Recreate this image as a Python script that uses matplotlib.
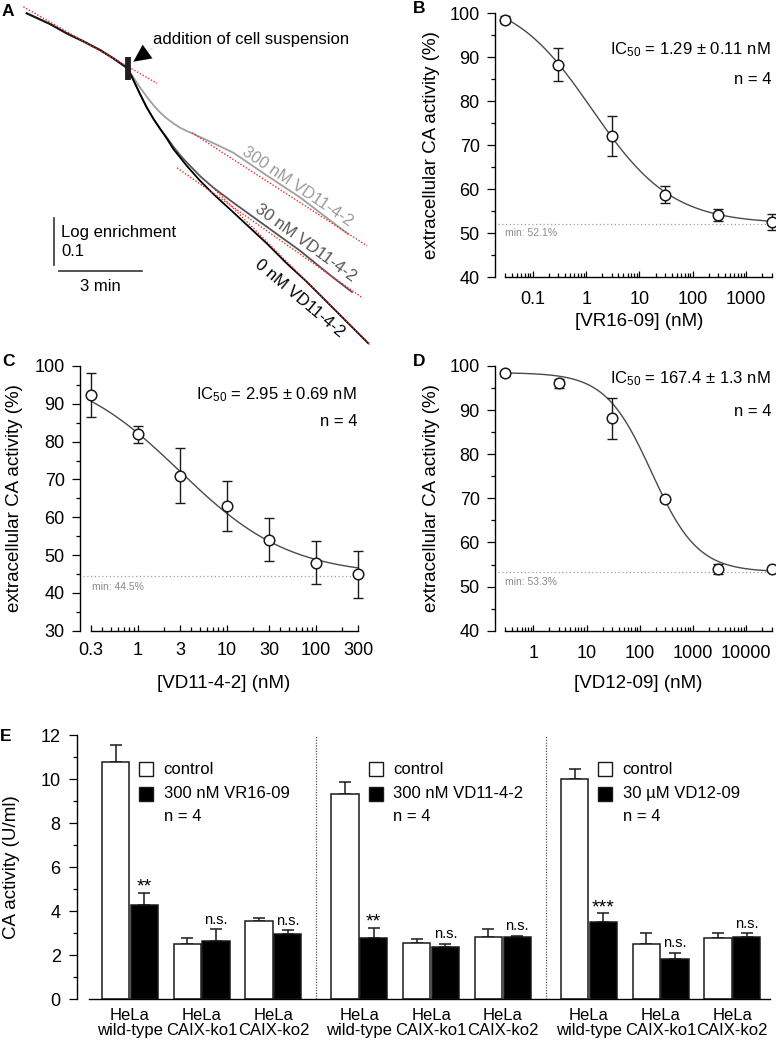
import numpy as np
import matplotlib
matplotlib.use('Agg')
import matplotlib.pyplot as plt
from matplotlib.ticker import FixedLocator, FixedFormatter, MultipleLocator, NullFormatter

plt.rcParams['font.family'] = ['Liberation Sans', 'DejaVu Sans']
plt.rcParams['mathtext.fontset'] = 'custom'
plt.rcParams['mathtext.rm'] = 'Liberation Sans'
plt.rcParams['mathtext.it'] = 'Liberation Sans:italic'
plt.rcParams['mathtext.bf'] = 'Liberation Sans:bold'
plt.rcParams['mathtext.default'] = 'regular'
plt.rcParams['axes.linewidth'] = 1.0

# ---------------- Panel A data (time in min, log enrichment) ----------------
pre_t = [0, 0.841, 1.443, 2.044, 2.646, 3.127, 3.645]
pre_v = [0, -0.0229, -0.0429, -0.0600, -0.0786, -0.0964, -0.1178]
# common steep part of 0 nM and 30 nM right after addition
common_t = [3.645, 3.850, 4.090, 4.331, 4.572, 4.812]
common_v = [-0.1178, -0.1428, -0.1728, -0.2013, -0.2256, -0.2470]
t0 = [5.053, 5.294, 5.534, 5.775, 6.256, 6.737, 7.460, 8.663, 9.385, 10.107, 10.769, 12.321]
v0 = [-0.2677, -0.2906, -0.3084, -0.3263, -0.3584, -0.3869, -0.4262, -0.4926, -0.5354, -0.5747,
      -0.6139, -0.7060]
t30 = [5.053, 5.294, 5.534, 5.775, 6.256, 6.737, 7.460, 8.663, 9.866, 11.069, 11.744]
v30 = [-0.2656, -0.2856, -0.3034, -0.3191, -0.3484, -0.3734, -0.4055, -0.4569, -0.5083, -0.5661,
       -0.5968]
t300 = [3.645, 3.850, 4.090, 4.331, 4.572, 4.812, 5.053, 5.294, 5.534, 5.775, 6.016, 6.256, 6.858,
        7.460, 8.663, 9.866, 11.599]
v300 = [-0.1178, -0.1371, -0.1585, -0.1785, -0.1964, -0.2121, -0.2249, -0.2356, -0.2449, -0.2520,
        -0.2577, -0.2649, -0.2813, -0.2985, -0.3470, -0.3941, -0.4726]
fit_pre_t = [-0.12, 4.71]
fit_pre_v = [0.014, -0.150]
fit300_t = [5.97, 12.29]
fit300_v = [-0.256, -0.498]
fit30_t = [5.43, 12.14]
fit30_v = [-0.331, -0.610]
fit0_t = [6.80, 12.39]
fit0_v = [-0.378, -0.710]
t_add = 3.65
trace_labels = ['300 nM VD11-4-2', '30 nM VD11-4-2', '0 nM VD11-4-2']
scale_min = 3
scale_log = 0.1

# ---------------- Panels B-D data ----------------
B_x = [0.03, 0.3, 3, 30, 300, 3000]
B_y = [98.5, 88.2, 72.0, 58.7, 54.1, 52.5]
B_err = [0.75, 3.75, 4.5, 1.95, 1.35, 1.75]
B_ic50, B_hill, B_top, B_min = 1.29, 0.58, 104.1, 52.1

C_x = [0.3, 1, 3, 10, 30, 100, 300]
C_y = [92.3, 81.9, 71.0, 63.0, 54.1, 48.0, 44.9]
C_err = [5.9, 2.3, 7.35, 6.7, 5.7, 5.75, 6.15]
C_ic50, C_hill, C_top, C_min = 2.95, 0.70, 100.0, 44.5

D_x = [0.3, 3, 30, 300, 3000, 30000]
D_y = [98.3, 96.1, 88.1, 69.8, 54.0, 54.0]
D_err = [0.5, 1.0, 4.55, 0.5, 1.2, 0.4]
D_ic50, D_hill, D_top, D_min = 167.4, 1.0, 98.5, 53.3

# ---------------- Panel E data ----------------
cell_lines = ['HeLa\nwild-type', 'HeLa\nCAIX-ko1', 'HeLa\nCAIX-ko2']
treatments = ['300 nM VR16-09', '300 nM VD11-4-2', '30 µM VD12-09']
ctrl_vals = [[10.77, 2.50, 3.54], [9.33, 2.57, 2.85], [10.00, 2.50, 2.80]]
ctrl_err = [[0.78, 0.30, 0.17], [0.53, 0.18, 0.35], [0.45, 0.53, 0.20]]
trt_vals = [[4.27, 2.65, 2.95], [2.80, 2.39, 2.85], [3.53, 1.85, 2.83]]
trt_err = [[0.56, 0.53, 0.19], [0.45, 0.14, 0.04], [0.38, 0.27, 0.17]]
signif = [['**', 'n.s.', 'n.s.'], ['**', 'n.s.', 'n.s.'], ['***', 'n.s.', 'n.s.']]

W, H = 776, 1044
fig = plt.figure(figsize=(W / 100, H / 100), dpi=100)


def add_ax(left, top, right, bottom):
    return fig.add_axes([left / W, 1 - bottom / H, (right - left) / W, (bottom - top) / H])


def ftext(x, y, s, **kw):
    fig.text(x / W, 1 - y / H, s, **kw)


# ================= Panel A =================
axA = add_ax(0, 0, 390, 350)
axA.set_xlim(-0.964, 13.116)
axA.set_ylim(-0.721, 0.0285)
axA.axis('off')
axA.plot(pre_t, pre_v, color='#1a1a1a', lw=1.6, clip_on=False)
axA.plot(t300, v300, color='#a0a0a0', lw=1.3, clip_on=False)
axA.plot(common_t + t30, common_v + v30, color='#555555', lw=1.3, clip_on=False)
axA.plot(common_t + t0, common_v + v0, color='black', lw=1.3, clip_on=False)
red = dict(color='#e0302a', lw=1.0, ls=(0, (1, 1.3)), clip_on=False, zorder=5)
for ft, fv in [(fit_pre_t, fit_pre_v), (fit300_t, fit300_v), (fit30_t, fit30_v), (fit0_t, fit0_v)]:
    axA.plot(ft, fv, **red)
axA.plot([t_add, t_add], [-0.094, -0.143], color='#202020', lw=4.2, solid_capstyle='butt', zorder=6)
axA.annotate('', xy=(3.85, -0.1036), xytext=(4.55, -0.074),
             arrowprops=dict(arrowstyle='-|>,head_length=0.62,head_width=0.3', mutation_scale=20,
                             color='black', shrinkA=0, shrinkB=0, lw=0.1))
axA.text(4.56, -0.057, 'addition of cell suspension', fontsize=12, ha='left', va='center')
axA.text(9.76, -0.372, trace_labels[0], fontsize=12, color='#9c9c9c', rotation=-34,
         ha='center', va='center', rotation_mode='anchor')
axA.text(10.08, -0.492, trace_labels[1], fontsize=12, color='#555555', rotation=-36,
         ha='center', va='center', rotation_mode='anchor')
axA.text(9.87, -0.610, trace_labels[2], fontsize=12, color='black', rotation=-40,
         ha='center', va='center', rotation_mode='anchor')
# scale bars
axA.plot([0.99, 0.99], [-0.439, -0.439 - scale_log], color='#333333', lw=1.2)
axA.plot([1.18, 1.18 + scale_min], [-0.552, -0.552], color='#333333', lw=1.2)
axA.text(1.24, -0.470, 'Log enrichment', fontsize=12, ha='left', va='center')
axA.text(1.24, -0.509, '0.1', fontsize=12, ha='left', va='center')
axA.text(2.67, -0.586, '3 min', fontsize=12, ha='center', va='center')


# ================= Dose-response panels =================
def hill(x, ic50, h, top, bottom):
    x = np.asarray(x, dtype=float)
    return bottom + (top - bottom) / (1 + (x / ic50) ** h)


def minor_list(lo, hi):
    out = []
    for e in range(-3, 6):
        for m in range(2, 10):
            v = m * 10.0 ** e
            if lo * 0.999 <= v <= hi * 1.001:
                out.append(v)
    return out


def dose_panel(ax, xs, ys, errs, ic50, h, top, bottom, ylim, xlim, span, xticks, xticklabels,
               xlabel, ic_text, min_text, min_pos, ic_pos, n_pos, xlab_pos, ylab_x, xpad):
    ax.set_xscale('log')
    ax.set_xlim(*xlim)
    ax.set_ylim(*ylim)
    for s in ['top', 'right']:
        ax.spines[s].set_visible(False)
    ax.spines['bottom'].set_bounds(*span)
    ax.spines['left'].set_bounds(*ylim)
    xx = np.logspace(np.log10(span[0]), np.log10(span[1]), 300)
    ax.plot(xx, hill(xx, ic50, h, top, bottom), color='#4a4a4a', lw=1.0, zorder=2)
    ax.axhline(bottom, xmin=0.012, xmax=0.985, color='#a0a0a0', lw=0.9, ls=(0, (1, 2)), zorder=1)
    ax.errorbar(xs, ys, yerr=errs, fmt='none', ecolor='#1a1a1a', elinewidth=1.0, capsize=3.3,
                capthick=1.0, zorder=3, clip_on=False)
    ax.plot(xs, ys, 'o', mfc='white', mec='#1a1a1a', ms=7.6, mew=1.1, zorder=4, clip_on=False)
    ax.yaxis.set_major_locator(MultipleLocator(10))
    ax.yaxis.set_minor_locator(MultipleLocator(5))
    ax.xaxis.set_major_locator(FixedLocator(xticks))
    ax.xaxis.set_major_formatter(FixedFormatter(xticklabels))
    ax.xaxis.set_minor_locator(FixedLocator(minor_list(span[0], span[1])))
    ax.xaxis.set_minor_formatter(NullFormatter())
    ax.tick_params(axis='y', which='major', direction='out', length=6, width=0.9, labelsize=13, pad=5)
    ax.tick_params(axis='y', which='minor', direction='out', length=3, width=0.9)
    ax.tick_params(axis='x', which='major', direction='in', length=4, width=0.9, labelsize=13, pad=xpad)
    ax.tick_params(axis='x', which='minor', direction='in', length=2.6, width=0.9)
    ax.set_xlabel(xlabel, fontsize=13.5)
    ax.xaxis.label.set_va('center')
    ax.xaxis.set_label_coords(*xlab_pos)
    ax.set_ylabel('extracellular CA activity (%)', fontsize=13.5)
    ax.yaxis.label.set_va('center')
    ax.yaxis.set_label_coords(ylab_x, 0.5)
    ftext(ic_pos[0], ic_pos[1], ic_text, fontsize=12, ha='right', va='center')
    ftext(n_pos[0], n_pos[1], 'n = 4', fontsize=12, ha='right', va='center')
    ftext(min_pos[0], min_pos[1], min_text, fontsize=7.5, color='#8a8a8a', ha='left', va='center')


axB = add_ax(495, 13, 775.4, 277)
dose_panel(axB, B_x, B_y, B_err, B_ic50, B_hill, B_top, B_min, (40, 100),
           (10 ** -1.71, 10 ** 3.55), (0.03, 3000), [0.1, 1, 10, 100, 1000],
           ['0.1', '1', '10', '100', '1000'], '[VR16-09] (nM)',
           'IC$_{50}$ = 1.29 ± 0.11 nM', 'min: 52.1%', (505, 233), (771, 50), (771, 80),
           (0.514, -0.170), -0.2265, 10)

axC = add_ax(80, 366, 365.5, 630.7)
dose_panel(axC, C_x, C_y, C_err, C_ic50, C_hill, C_top, C_min, (30, 100),
           (10 ** -0.648, 10 ** 2.56), (0.3, 300), [0.3, 1, 3, 10, 30, 100, 300],
           ['0.3', '1', '3', '10', '30', '100', '300'], '[VD11-4-2] (nM)',
           'IC$_{50}$ = 2.95 ± 0.69 nM', 'min: 44.5%', (91.7, 586.7), (357, 395), (357, 421),
           (0.504, -0.198), -0.2277, 8)

axD = add_ax(495, 366, 775.4, 630.7)
dose_panel(axD, D_x, D_y, D_err, D_ic50, D_hill, D_top, D_min, (40, 100),
           (10 ** -0.72, 10 ** 4.55), (0.3, 30000), [1, 10, 100, 1000, 10000],
           ['1', '10', '100', '1000', '10000'], '[VD12-09] (nM)',
           'IC$_{50}$ = 167.4 ± 1.3 nM', 'min: 53.3%', (505, 582.3), (771, 379), (771, 412),
           (0.51, -0.198), -0.2265, 10)

# ================= Panel E =================
axE = add_ax(77.3, 735, 776, 999.3)
axE.set_xlim(-0.735, 9.01)
axE.set_ylim(0, 12)
for s in ['top', 'right']:
    axE.spines[s].set_visible(False)
axE.spines['bottom'].set_bounds(-0.57, 8.93)
axE.spines['left'].set_bounds(0, 12)
section_step = 3.2
bw = 0.38
all_pos, all_labels = [], []
for s in range(3):
    base = s * section_step
    pos = np.array([base + i for i in range(3)], dtype=float)
    axE.bar(pos - 0.2, ctrl_vals[s], bw, color='white', edgecolor='#1a1a1a', lw=1.1, zorder=2)
    axE.bar(pos + 0.2, trt_vals[s], bw, color='black', edgecolor='#1a1a1a', lw=1.1, zorder=2)
    axE.errorbar(pos - 0.2, ctrl_vals[s], yerr=[np.zeros(3), ctrl_err[s]], fmt='none',
                 ecolor='#1a1a1a', elinewidth=1.1, capsize=4, capthick=1.1, zorder=1)
    axE.errorbar(pos + 0.2, trt_vals[s], yerr=[np.zeros(3), trt_err[s]], fmt='none',
                 ecolor='#1a1a1a', elinewidth=1.1, capsize=4, capthick=1.1, zorder=1)
    for i in range(3):
        star = signif[s][i].startswith('*')
        axE.annotate(signif[s][i], (pos[i] + 0.2, trt_vals[s][i] + trt_err[s][i]),
                     xytext=(0, 0.8 if star else 4.0), textcoords='offset points',
                     ha='center', va='baseline', fontsize=14 if star else 10.5)
    # legend
    lx = pos[0] + 0.23
    axE.plot([lx], [10.45], 's', ms=10.5, mfc='white', mec='#1a1a1a', mew=1.0, zorder=3)
    axE.plot([lx], [9.33], 's', ms=10.5, mfc='black', mec='#1a1a1a', mew=1.0, zorder=3)
    tx = pos[0] + 0.47
    axE.text(tx, 10.45, 'control', fontsize=12, ha='left', va='center')
    axE.text(tx, 9.33, treatments[s], fontsize=12, ha='left', va='center')
    axE.text(tx, 8.30, 'n = 4', fontsize=12, ha='left', va='center')
    all_pos.extend(pos)
    all_labels.extend(cell_lines)
    if s < 2:
        xd = base + 2 + (section_step - 2) / 2
        axE.plot([xd, xd], [0, 12], color='#555555', lw=0.9, ls=(0, (1, 1.2)), zorder=0)
axE.set_xticks(all_pos)
axE.set_xticklabels(all_labels)
for lbl in axE.get_xticklabels():
    lbl.set_linespacing(1.0)
axE.tick_params(axis='x', length=0, labelsize=12, pad=6)
axE.yaxis.set_major_locator(MultipleLocator(2))
axE.yaxis.set_minor_locator(MultipleLocator(1))
axE.tick_params(axis='y', which='major', direction='out', length=6, width=0.9, labelsize=13, pad=6)
axE.tick_params(axis='y', which='minor', direction='out', length=3, width=0.9)
axE.set_ylabel('CA activity (U/ml)', fontsize=13.5)
axE.yaxis.label.set_va('center')
axE.yaxis.set_label_coords(-0.0935, 0.5)

# panel letters
for letter, (x, y) in {'A': (2, 4), 'B': (413, 1), 'C': (2, 354), 'D': (413, 354), 'E': (0, 729)}.items():
    ftext(x, y, letter, fontsize=12.5, fontweight='bold', ha='left', va='top')

fig.savefig('out.png', dpi=100)
